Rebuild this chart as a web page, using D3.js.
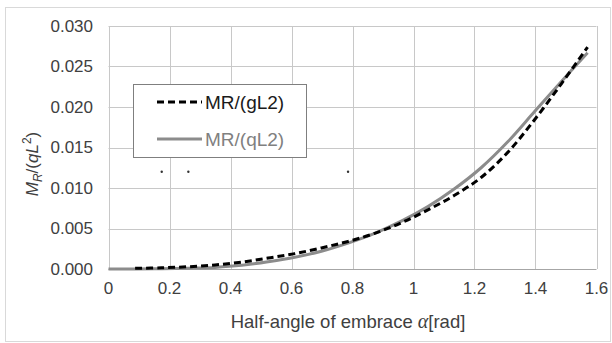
<!DOCTYPE html>
<html>
<head>
<meta charset="UTF-8">
<title>MR chart</title>
<style>
  html, body { margin: 0; padding: 0; background: #fff; }
  svg { display: block; font-family: "Liberation Sans", Arial, sans-serif; }
</style>
</head>
<body>
<svg width="612" height="343"></svg>
<script src="https://d3js.org/d3.v7.min.js"></script>
<script>
// data
var alphaDeg = [5, 10, 15, 20, 25, 30, 35, 40, 45, 50, 55, 60, 65, 70, 75, 80, 85, 90];
var mrG = [0.00008, 0.00015, 0.00028, 0.0005, 0.00085, 0.00135, 0.0019, 0.0026, 0.0034, 0.0044,
           0.0057, 0.0073, 0.0091, 0.0113, 0.0144, 0.0184, 0.0228, 0.0274];
var alphaDegQ = [0, 5, 10, 15, 20, 25, 30, 35, 40, 45, 50, 55, 60, 65, 70, 75, 80, 85, 90];
var mrQ = [0, 0.00001, 0.00004, 0.0001, 0.0002, 0.00045, 0.0009, 0.00145, 0.0022, 0.0032, 0.0044,
           0.0059, 0.0077, 0.0099, 0.0125, 0.0157, 0.0194, 0.0231, 0.0267];
var dotX = [0.1745, 0.2618, 0.7854];
var dotY = [0.012, 0.012, 0.012];
var xTicks = [0, 0.2, 0.4, 0.6, 0.8, 1, 1.2, 1.4, 1.6];
var yTicks = [0, 0.005, 0.010, 0.015, 0.020, 0.025, 0.030];
var seriesNames = ["MR/(gL2)", "MR/(qL2)"];

var svg = d3.select("svg");

// outer frame
svg.append("rect").attr("x", 5.5).attr("y", 7.5).attr("width", 605).attr("height", 334)
  .attr("fill", "#fff").attr("stroke", "#d9d9d9");

var x = d3.scaleLinear().domain([0, 1.6]).range([108.5, 596.5]);
var y = d3.scaleLinear().domain([0, 0.03]).range([269, 26]);

// gridlines
svg.append("g").selectAll("line").data(xTicks).enter().append("line")
  .attr("x1", function (d) { return Math.round(x(d)) + 0.5; })
  .attr("x2", function (d) { return Math.round(x(d)) + 0.5; })
  .attr("y1", y(0.03)).attr("y2", y(0))
  .attr("stroke", "#c8c8c8").attr("stroke-width", 1);
svg.append("g").selectAll("line").data(yTicks).enter().append("line")
  .attr("x1", x(0)).attr("x2", x(1.6))
  .attr("y1", function (d) { return Math.round(y(d)) + 0.5; })
  .attr("y2", function (d) { return Math.round(y(d)) + 0.5; })
  .attr("stroke", function (d) { return d === 0 ? "#a6a6a6" : "#c8c8c8"; })
  .attr("stroke-width", 1);

// tick labels
svg.append("g").selectAll("text").data(yTicks).enter().append("text")
  .attr("x", 93).attr("y", function (d) { return y(d); })
  .attr("dy", "0.35em").attr("text-anchor", "end")
  .attr("font-size", 17).attr("fill", "#404040")
  .text(function (d) { return d3.format(".3f")(d); });
svg.append("g").selectAll("text").data(xTicks).enter().append("text")
  .attr("x", function (d) { return x(d); }).attr("y", 294)
  .attr("text-anchor", "middle")
  .attr("font-size", 17).attr("fill", "#404040")
  .text(function (d) { return d3.format("")(d); });

// axis titles
var xt = svg.append("text").attr("x", 348).attr("y", 328)
  .attr("text-anchor", "middle").attr("font-size", 18.5).attr("fill", "#404040");
xt.append("tspan").text("Half-angle of embrace ");
xt.append("tspan").attr("font-family", "Liberation Serif, serif").attr("font-style", "italic")
  .attr("font-size", 20).text("α");
xt.append("tspan").text("[rad]");

var yt = svg.append("text").attr("transform", "translate(38,164) rotate(-90)")
  .attr("text-anchor", "middle").attr("font-size", 17).attr("fill", "#404040")
  .attr("font-style", "italic");
yt.append("tspan").text("M");
yt.append("tspan").attr("font-size", 12).attr("dy", 4).text("R");
yt.append("tspan").attr("dy", -4).attr("font-style", "normal").text("/(");
yt.append("tspan").text("qL");
yt.append("tspan").attr("font-size", 12).attr("dy", -7).attr("font-style", "normal").text("2");
yt.append("tspan").attr("dy", 7).attr("font-style", "normal").text(")");

// curves
var line = d3.line()
  .x(function (d) { return x(d[0]); })
  .y(function (d) { return y(d[1]); })
  .curve(d3.curveCatmullRom);

var qPts = alphaDegQ.map(function (a, i) { return [a * Math.PI / 180, mrQ[i]]; });
var gPts = alphaDeg.map(function (a, i) { return [a * Math.PI / 180, mrG[i]]; });

svg.append("path").attr("d", line(qPts)).attr("fill", "none")
  .attr("stroke", "#8c8c8c").attr("stroke-width", 3);
svg.append("path").attr("d", line(gPts)).attr("fill", "none")
  .attr("stroke", "#000").attr("stroke-width", 3).attr("stroke-dasharray", "7,4");

// stray markers
svg.append("g").selectAll("circle").data(dotX).enter().append("circle")
  .attr("cx", function (d) { return x(d); })
  .attr("cy", function (d, i) { return y(dotY[i]); })
  .attr("r", 1.2).attr("fill", "#333");

// legend
var lg = svg.append("g");
lg.append("rect").attr("x", 133.5).attr("y", 84.5).attr("width", 173).attr("height", 73)
  .attr("fill", "#fff").attr("stroke", "#7f7f7f").attr("stroke-width", 1);
lg.append("line").attr("x1", 157).attr("x2", 202).attr("y1", 102).attr("y2", 102)
  .attr("stroke", "#000").attr("stroke-width", 3).attr("stroke-dasharray", "7,4");
lg.append("text").attr("x", 205).attr("y", 102).attr("dy", "0.35em")
  .attr("font-size", 19).attr("fill", "#1a1a1a").text(seriesNames[0]);
lg.append("line").attr("x1", 157).attr("x2", 202).attr("y1", 139).attr("y2", 139)
  .attr("stroke", "#8c8c8c").attr("stroke-width", 3);
lg.append("text").attr("x", 205).attr("y", 139).attr("dy", "0.35em")
  .attr("font-size", 19).attr("fill", "#808080").text(seriesNames[1]);
</script>
</body>
</html>
